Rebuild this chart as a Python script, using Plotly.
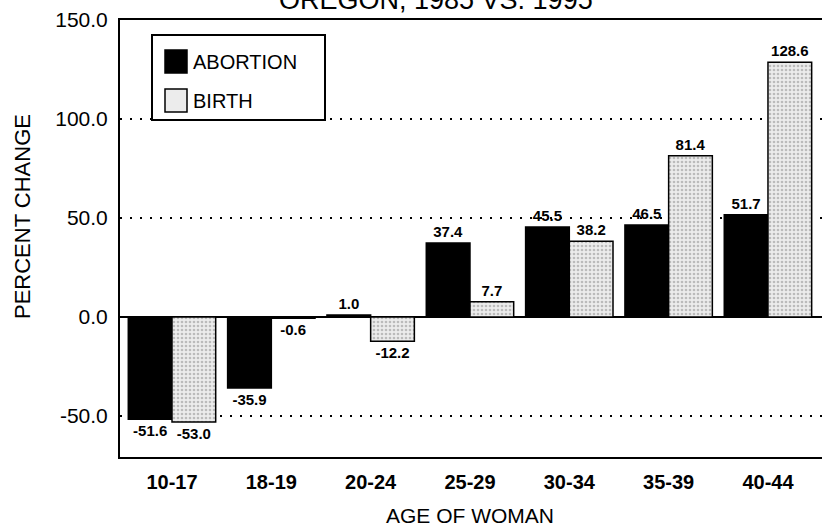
import plotly.graph_objects as go

categories = ["10-17", "18-19", "20-24", "25-29", "30-34", "35-39", "40-44"]
abortion = [-51.6, -35.9, 1.0, 37.4, 45.5, 46.5, 51.7]
birth = [-53.0, -0.6, -12.2, 7.7, 38.2, 81.4, 128.6]
y_ticks = [-50, 0, 50, 100, 150]
y_tick_labels = ["-50.0", "0.0", "50.0", "100.0", "150.0"]
title_text = "OREGON, 1985 VS. 1995"
x_title = "AGE OF WOMAN"
y_title = "PERCENT CHANGE"

W, H = 822, 526
ML, MR, MT, MB = 120, 0, 20, 69
PW, PH = W - ML - MR, H - MT - MB

def px(x):
    return (x - ML) / PW

def py(y):
    return 1 - (y - MT) / PH

FONT = "Liberation Sans, Arial, Helvetica, sans-serif"

fig = go.Figure()
fig.add_trace(go.Bar(
    x=categories, y=abortion, name="ABORTION",
    marker=dict(color="black", line=dict(color="black", width=1.5)),
    texttemplate="%{y:.1f}", textposition="outside", cliponaxis=False,
    constraintext="none",
    textfont=dict(family=FONT, size=15, color="black", weight="bold"),
    showlegend=False,
))
fig.add_trace(go.Bar(
    x=categories, y=birth, name="BIRTH",
    marker=dict(color="#e4e4e4", line=dict(color="black", width=1.5),
                pattern=dict(shape=".", fgcolor="#8a8a8a", bgcolor="#ececec",
                             size=4, solidity=0.35)),
    texttemplate="%{y:.1f}", textposition="outside", cliponaxis=False,
    constraintext="none",
    textfont=dict(family=FONT, size=15, color="black", weight="bold"),
    showlegend=False,
))

shapes = [
    dict(type="rect", xref="paper", yref="paper",
         x0=px(152), x1=px(325), y0=py(35), y1=py(120),
         line=dict(color="black", width=2), fillcolor="white", layer="above"),
    dict(type="rect", xref="paper", yref="paper",
         x0=px(165), x1=px(187), y0=py(50), y1=py(73),
         line=dict(color="black", width=1.5), fillcolor="black", layer="above"),
    dict(type="rect", xref="paper", yref="paper",
         x0=px(165), x1=px(187), y0=py(89), y1=py(112),
         line=dict(color="black", width=1.5), fillcolor="#ececec", layer="above"),
]

annotations = [
    dict(text="ABORTION", xref="paper", yref="paper", x=px(191), y=py(62),
         xanchor="left", yanchor="middle", showarrow=False,
         font=dict(family=FONT, size=20, color="black")),
    dict(text="BIRTH", xref="paper", yref="paper", x=px(191), y=py(101),
         xanchor="left", yanchor="middle", showarrow=False,
         font=dict(family=FONT, size=20, color="black")),
    dict(text=title_text, xref="paper", yref="paper", x=px(436), y=1,
         xanchor="center", yanchor="bottom", yshift=3, showarrow=False,
         font=dict(family=FONT, size=27, color="black")),
    dict(text=x_title, xref="paper", yref="paper", x=px(470), y=py(515),
         xanchor="center", yanchor="middle", showarrow=False,
         font=dict(family=FONT, size=21, color="black")),
    dict(text=y_title, xref="paper", yref="paper", x=px(22), y=py(217),
         xanchor="center", yanchor="middle", showarrow=False, textangle=-90,
         font=dict(family=FONT, size=22, color="black")),
]

fig.update_layout(
    width=W, height=H,
    margin=dict(l=ML, r=MR, t=MT, b=MB, pad=0, autoexpand=False),
    paper_bgcolor="white", plot_bgcolor="white",
    barmode="group", bargap=0.12, bargroupgap=0,
    font=dict(family=FONT, color="black"),
    shapes=shapes, annotations=annotations,
    showlegend=False,
)
fig.update_xaxes(
    range=[-0.5235, 6.544], showline=True, linecolor="black", linewidth=2,
    mirror=True, showgrid=False, ticks="", ticklabelstandoff=6,
    automargin=False,
    tickfont=dict(family=FONT, size=20, weight="bold"),
)
fig.update_yaxes(
    range=[-70.7, 150], tickvals=y_ticks, ticktext=y_tick_labels,
    showline=True, linecolor="black", linewidth=2,
    showgrid=True, gridcolor="black", gridwidth=2, griddash="2px,8px",
    zeroline=True, zerolinecolor="black", zerolinewidth=2,
    ticks="", ticklabelstandoff=6, automargin=False,
    tickfont=dict(family=FONT, size=21),
)

fig.write_html(
    "out.html",
    config={"displayModeBar": False},
    post_script="document.body.style.margin='0px';document.body.style.overflow='hidden';",
)
